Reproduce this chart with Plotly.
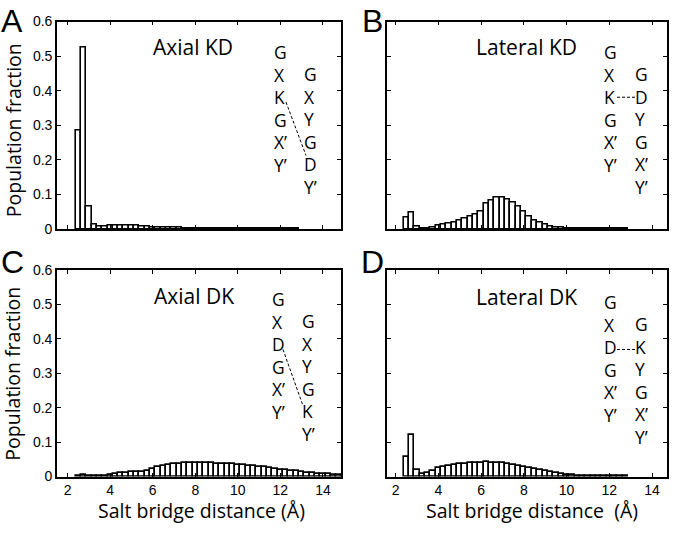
import plotly.graph_objects as go

# ---------------- data ----------------
bin_centers_short = [2.5, 2.75, 3.0, 3.25, 3.5, 3.75, 4.0, 4.25, 4.5, 4.75,
                     5.0, 5.25, 5.5, 5.75, 6.0, 6.25, 6.5, 6.75, 7.0, 7.25,
                     7.5, 7.75, 8.0, 8.25, 8.5, 8.75, 9.0, 9.25, 9.5, 9.75,
                     10.0, 10.25, 10.5, 10.75, 11.0, 11.25, 11.5, 11.75, 12.0, 12.25,
                     12.5, 12.75]
bin_centers_long = bin_centers_short + [13.0, 13.25, 13.5, 13.75, 14.0, 14.25, 14.5, 14.75]

axial_kd = [0.285, 0.525, 0.064, 0.013, 0.008, 0.008, 0.009, 0.010, 0.011, 0.011,
            0.010, 0.009, 0.008, 0.007, 0.006, 0.005, 0.005, 0.004, 0.004, 0.004,
            0.003, 0.003, 0.003, 0.003, 0.003, 0.002, 0.002, 0.002, 0.002, 0.002,
            0.002, 0.002, 0.002, 0.002, 0.002, 0.001, 0.001, 0.001, 0.001, 0.001,
            0.001, 0.001]

lateral_kd = [0.034, 0.047, 0.008, 0.003, 0.003, 0.004, 0.010, 0.012, 0.015, 0.020,
              0.026, 0.031, 0.035, 0.041, 0.052, 0.073, 0.082, 0.090, 0.090, 0.085,
              0.076, 0.064, 0.050, 0.035, 0.026, 0.018, 0.012, 0.008, 0.006, 0.004,
              0.003, 0.003, 0.002, 0.002, 0.002, 0.002, 0.001, 0.001, 0.001, 0.001,
              0.001, 0.001]

axial_dk = [0.003, 0.004, 0.003, 0.003, 0.002, 0.003, 0.006, 0.009, 0.011, 0.012,
            0.013, 0.013, 0.014, 0.015, 0.021, 0.027, 0.032, 0.035, 0.037, 0.038,
            0.039, 0.040, 0.040, 0.040, 0.040, 0.039, 0.038, 0.038, 0.037, 0.036,
            0.035, 0.033, 0.032, 0.030, 0.029, 0.027, 0.025, 0.023, 0.020, 0.018,
            0.016, 0.015, 0.013, 0.011, 0.010, 0.009, 0.008, 0.007, 0.006, 0.005]

lateral_dk = [0.056, 0.120, 0.018, 0.007, 0.011, 0.016, 0.024, 0.027, 0.030, 0.033,
              0.036, 0.037, 0.040, 0.040, 0.041, 0.042, 0.040, 0.039, 0.039, 0.038,
              0.035, 0.030, 0.027, 0.025, 0.022, 0.019, 0.016, 0.013, 0.010, 0.008,
              0.006, 0.004, 0.003, 0.003, 0.002, 0.002, 0.001, 0.001, 0.001, 0.001,
              0.001, 0.001]

x_ticks = [2, 4, 6, 8, 10, 12, 14]
y_ticks = [0, 0.1, 0.2, 0.3, 0.4, 0.5, 0.6]
y_tick_labels = ["0", "0.1", "0.2", "0.3", "0.4", "0.5", "0.6"]

panel_titles = ["Axial KD", "Lateral KD", "Axial DK", "Lateral DK"]
panel_letters = ["A", "B", "C", "D"]
left_columns = [["G", "X", "K", "G", "X’", "Y’"],
                ["G", "X", "K", "G", "X’", "Y’"],
                ["G", "X", "D", "G", "X’", "Y’"],
                ["G", "X", "D", "G", "X’", "Y’"]]
right_columns = [["G", "X", "Y", "G", "D", "Y’"],
                 ["G", "D", "Y", "G", "X’", "Y’"],
                 ["G", "X", "Y", "G", "K", "Y’"],
                 ["G", "K", "Y", "G", "X’", "Y’"]]

# ---------------- layout helpers ----------------
W, H = 674, 535


def px(x):
    return x / W


def py(y):
    return 1 - y / H


panels = [
    dict(xs=bin_centers_short, ys=axial_kd, l=57, r=341, t=14, b=228, xr=[1.5, 14.85]),
    dict(xs=bin_centers_short, ys=lateral_kd, l=387, r=667, t=14, b=228, xr=[1.6, 14.7]),
    dict(xs=bin_centers_long, ys=axial_dk, l=57, r=341, t=270, b=483, xr=[1.5, 14.85]),
    dict(xs=bin_centers_short, ys=lateral_dk, l=387, r=667, t=270, b=483, xr=[1.6, 14.7]),
]

fig = go.Figure()
layout = dict(width=W, height=H, margin=dict(l=0, r=0, t=0, b=0),
              paper_bgcolor="white", plot_bgcolor="white", showlegend=False,
              bargap=0, font=dict(family="Liberation Sans, Arial", color="black"))

tick_font = dict(family="Liberation Sans, Arial", size=14, color="black")
for i, p in enumerate(panels):
    n = "" if i == 0 else str(i + 1)
    fig.add_trace(go.Bar(x=p["xs"], y=p["ys"], width=0.25,
                         marker=dict(color="white", line=dict(color="black", width=1.6)),
                         xaxis="x" + n, yaxis="y" + n, hoverinfo="x+y"))
    layout["xaxis" + n] = dict(domain=[px(p["l"]), px(p["r"])], range=p["xr"],
                              anchor="y" + n, tickvals=x_ticks,
                              showticklabels=(i >= 2), ticks="inside", ticklen=4,
                              tickwidth=1, tickcolor="black",
                              showline=True, linecolor="black", linewidth=1.6, mirror="ticks",
                              showgrid=False, zeroline=False, tickfont=tick_font)
    layout["yaxis" + n] = dict(domain=[py(p["b"]), py(p["t"])], range=[0, 0.6],
                              anchor="x" + n, tickvals=y_ticks, ticktext=y_tick_labels,
                              showticklabels=(i % 2 == 0), ticks="inside", ticklen=4,
                              tickwidth=1, tickcolor="black",
                              showline=True, linecolor="black", linewidth=1.6, mirror="ticks",
                              showgrid=False, zeroline=False, tickfont=tick_font)

annotations = []
shapes = []
axis_title_font = dict(family="Open Sans", size=19.5, color="black")
panel_title_font = dict(family="Open Sans", size=21, color="black")
seq_font = dict(family="Open Sans", size=17.4, color="black")

letter_pos = [(12, 13), (372, 13), (12, 262), (372, 262)]
title_pos = [(193, 40), (526, 40), (194, 297), (526, 298)]
left_col_pos = [(273, 47), (603, 47), (271, 302), (603, 305)]
right_col_pos = [(303, 69.5), (634, 69.5), (301, 324), (634, 327.5)]
step = 22.6

for i in range(4):
    lx, ly = letter_pos[i]
    annotations.append(dict(text=panel_letters[i], x=px(lx), y=py(ly), xref="paper", yref="paper",
                            showarrow=False, xanchor="center", yanchor="middle",
                            font=dict(family="Liberation Sans, Arial", size=32, color="black")))
    tx, ty = title_pos[i]
    annotations.append(dict(text=panel_titles[i], x=px(tx), y=py(ty), xref="paper", yref="paper",
                            showarrow=False, xanchor="center", yanchor="middle", font=panel_title_font))
    for col, (cx, cy) in ((left_columns[i], left_col_pos[i]), (right_columns[i], right_col_pos[i])):
        mid = cy + (len(col) - 1) * step / 2
        annotations.append(dict(text="<br>".join(col), x=px(cx), y=py(mid), xref="paper", yref="paper",
                                showarrow=False, xanchor="left", yanchor="middle", align="left",
                                font=seq_font, borderpad=0))

# dashed salt-bridge connectors
dash_lines = [((286, 97), (306, 152)), ((617, 92), (636, 92)),
              ((283, 352), (303, 410)), ((617, 352), (637, 352))]
for (x0, y0), (x1, y1) in dash_lines:
    shapes.append(dict(type="line", xref="paper", yref="paper", x0=px(x0), y0=py(y0),
                       x1=px(x1), y1=py(y1), line=dict(color="black", width=1, dash="3px,2px")))

# axis titles
for yc in (126, 377):
    annotations.append(dict(text="Population fraction", x=px(13), y=py(yc), xref="paper", yref="paper",
                            showarrow=False, textangle=-90, xanchor="center", yanchor="middle",
                            font=axis_title_font, borderpad=0))
annotations.append(dict(text="Salt bridge distance (Å)", x=px(201), y=py(518), xref="paper", yref="paper",
                        showarrow=False, xanchor="center", yanchor="middle", font=axis_title_font))
annotations.append(dict(text="Salt bridge distance  (Å)", x=px(532), y=py(518), xref="paper", yref="paper",
                        showarrow=False, xanchor="center", yanchor="middle", font=axis_title_font))

layout["annotations"] = annotations
layout["shapes"] = shapes
fig.update_layout(**layout)
fig.write_html("out.html", post_script="document.body.style.margin='0';",
               config={"displayModeBar": False})
